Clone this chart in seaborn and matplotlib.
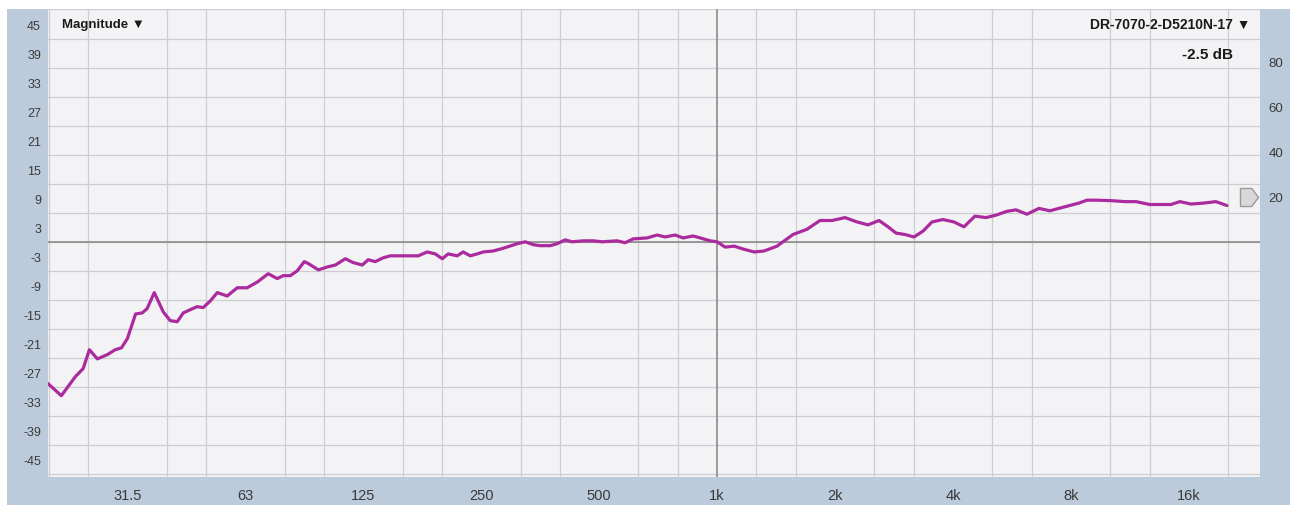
import numpy as np
import pandas as pd
import seaborn as sns
import matplotlib.pyplot as plt
from matplotlib.patches import Rectangle
from matplotlib.ticker import FixedLocator, NullFormatter

# frequency response (Hz, dB)
freq = [19.6, 21.2, 22.1, 23.0, 24.1, 25.0, 26.2, 27.8, 29.1, 30.2, 31.25, 32.8, 34.1, 35.1,
        36.6, 38.6, 40.2, 41.9, 43.4, 45.3, 47.1, 48.8, 50.9, 53.0, 56.2, 59.6, 63.2, 67.1,
        71.5, 75.4, 78.1, 81.4, 84.8, 88.4, 90.5, 96.0, 101.2, 106.1, 112.5, 117.8, 124.3,
        128.7, 134.1, 140.6, 146.5, 158.2, 164.7, 172.7, 182.0, 190.8, 198.8, 205.9, 217.1,
        224.8, 234.4, 244.3, 253.0, 268.2, 282.7, 293.0, 309.0, 323.8, 339.4, 353.6, 375.1,
        390.7, 409.4, 426.5, 455.0, 482.6, 508.8, 555.7, 582.1, 610.4, 663.0, 703.0, 736.6,
        781.3, 818.9, 868.5, 905, 960, 1000, 1048, 1105, 1165, 1243, 1318, 1422, 1562, 1697,
        1831, 1965, 2121, 2276, 2428, 2590, 2730, 2862, 3017, 3180, 3354, 3535, 3771, 4023,
        4266, 4551, 4856, 5148, 5494, 5792, 6178, 6629, 7071, 7368, 7862, 8386, 8790, 9267,
        10119, 10990, 11722, 12722, 13574, 14392, 15176, 16190, 17474, 18750, 20000]
mag = [-29.3, -31.8, -29.8, -27.9, -26.2, -22.3, -24.2, -23.3, -22.3, -21.9, -20.0, -14.9,
       -14.7, -13.8, -10.5, -14.5, -16.3, -16.5, -14.7, -14.0, -13.4, -13.6, -12.2, -10.5,
       -11.2, -9.5, -9.5, -8.3, -6.6, -7.6, -7.0, -7.0, -6.0, -4.1, -4.5, -5.8, -5.2, -4.8,
       -3.5, -4.3, -4.8, -3.7, -4.1, -3.3, -2.9, -2.9, -2.9, -2.9, -2.1, -2.5, -3.5, -2.5,
       -2.9, -2.1, -2.9, -2.5, -2.1, -1.9, -1.4, -1.0, -0.4, 0.0, -0.6, -0.8, -0.8, -0.4,
       0.4, 0.0, 0.2, 0.2, 0.0, 0.2, -0.2, 0.6, 0.8, 1.4, 1.0, 1.4, 0.8, 1.2, 0.8, 0.2, 0.0,
       -1.1, -0.9, -1.5, -2.1, -1.9, -0.9, 1.5, 2.6, 4.4, 4.4, 5.0, 4.1, 3.5, 4.4, 3.1, 1.8,
       1.5, 1.0, 2.2, 4.1, 4.6, 4.1, 3.1, 5.3, 5.0, 5.5, 6.3, 6.6, 5.7, 6.9, 6.4, 6.8, 7.4,
       8.0, 8.6, 8.6, 8.5, 8.3, 8.3, 7.7, 7.7, 7.7, 8.3, 7.8, 8.0, 8.3, 7.5]

octave_ticks = [31.25, 62.5, 125, 250, 500, 1000, 2000, 4000, 8000, 16000]
octave_labels = ['31.5', '63', '125', '250', '500', '1k', '2k', '4k', '8k', '16k']
left_ticks = list(range(-45, 46, 6))
right_ticks = [20, 40, 60, 80]
marker_level = 20

sns.set_style('white')
plt.rcParams['font.family'] = ['Liberation Sans', 'DejaVu Sans']
plt.rcParams['axes.unicode_minus'] = False

W, H = 1298, 506
fig = plt.figure(figsize=(W / 100, H / 100), dpi=100)
fig.patch.set_facecolor('white')
# blue-grey frame around the plot
frame = Rectangle((7 / W, 0), 1283 / W, 496 / H, transform=fig.transFigure,
                  facecolor='#bccbdc', edgecolor='none', zorder=-5)
fig.add_artist(frame)

ax = fig.add_axes([48 / W, 28 / H, 1212 / W, 468 / H])
ax.set_facecolor('#f3f3f5')

df = pd.DataFrame({'freq': freq, 'mag': mag})
sns.lineplot(data=df, x='freq', y='mag', ax=ax, color='#ab2a9e', linewidth=2.3, zorder=5,
             solid_joinstyle='round', solid_capstyle='round')

ax.set_xscale('log')
ax.set_xlim(19.6, 24300)
ax.set_ylim(-48.6, 48.1)

# grid: 1/3 octave, 3 dB
ax.xaxis.set_major_locator(FixedLocator(octave_ticks))
ax.set_xticklabels(octave_labels)
ax.xaxis.set_minor_locator(FixedLocator(1000 * 2 ** (np.arange(-17, 15) / 3)))
ax.xaxis.set_minor_formatter(NullFormatter())
ax.set_yticks(left_ticks)
ax.yaxis.set_minor_locator(FixedLocator(np.arange(-48, 49, 3)))
ax.grid(False, which='major')
ax.grid(True, which='minor', color='#cdcdd2', linewidth=0.9)
ax.axhline(0, color='#8c8c8c', linewidth=1.2, zorder=3)
ax.axvline(1000, color='#8c8c8c', linewidth=1.2, zorder=3)

ax.tick_params(axis='y', which='both', length=0, labelsize=9, labelcolor='#3a3a3a', pad=5)
ax.tick_params(axis='x', which='both', length=0, labelsize=10.5, labelcolor='#3a3a3a', pad=8)
ax.set_xlabel('')
ax.set_ylabel('')
for s in ax.spines.values():
    s.set_visible(False)

ax2 = ax.twinx()
ax2.set_ylim(-104, 103.1)
ax2.set_yticks(right_ticks)
ax2.tick_params(axis='y', length=0, labelsize=9.5, labelcolor='#3a3a3a', pad=6)
for s in ax2.spines.values():
    s.set_visible(False)

tag = [(-1, -1), (0.25, -1), (1, 0), (0.25, 1), (-1, 1), (-1, -1)]
ax2.plot([0.991], [marker_level], transform=ax2.get_yaxis_transform(), marker=tag,
         markersize=13, markerfacecolor='#d8d8d8', markeredgecolor='#9a9a9a',
         markeredgewidth=1, clip_on=False, zorder=6)

ax.text(0.0116, 0.968, 'Magnitude \u25bc', transform=ax.transAxes, fontsize=9.5,
        fontweight='bold', color='#1a1a1a', va='center', ha='left')
ax.text(0.992, 0.968, 'DR-7070-2-D5210N-17 \u25bc', transform=ax.transAxes, fontsize=10,
        fontweight='bold', color='#1a1a1a', va='center', ha='right')
ax.text(0.978, 0.904, '-2.5 dB', transform=ax.transAxes, fontsize=11,
        fontweight='bold', color='#1a1a1a', va='center', ha='right')

fig.savefig('out.png', dpi=100)
